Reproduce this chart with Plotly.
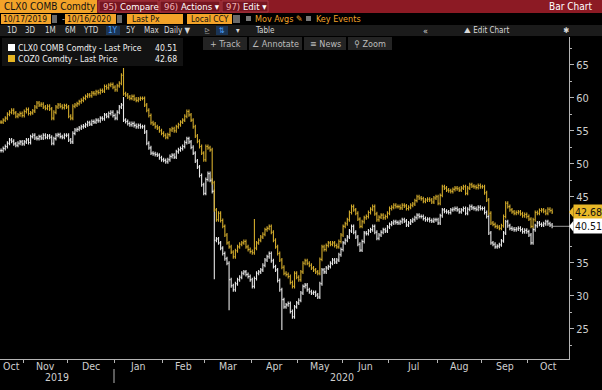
import pandas as pd
import plotly.graph_objects as go

# ---------------- data (daily closes) ----------------
clx0_close = [
    52.0, 52.3, 52.6, 53.1, 53.6, 53.4, 53.0, 52.8, 53.1, 53.3, 53.0,                                   # Oct 19
    53.3, 53.6, 53.2, 54.1, 54.3, 53.9, 53.8, 54.1, 53.9, 54.3, 54.0, 54.2, 54.0, 53.1, 53.8, 54.3, 54.4,
    54.1, 54.0, 54.3, 54.3,                                                                             # Nov
    53.6, 53.3, 54.6, 55.1, 55.2, 55.4, 55.6, 55.7, 55.9, 56.2, 56.0, 56.4, 56.3, 56.6, 56.5, 56.9, 56.8,
    57.4, 57.2, 57.6, 57.8, 57.3,                                                                       # Dec
    56.9, 57.8, 58.6, 58.9, 56.6, 56.4, 56.1, 55.9, 56.1, 55.8, 55.6, 55.8, 55.6, 55.6, 54.8, 53.1, 52.4,
    51.6, 51.5, 51.4, 51.3, 50.9, 50.6,                                                                 # Jan 20
    50.5, 50.3, 50.6, 51.1, 51.3, 51.0, 51.8, 52.1, 52.3, 52.6, 53.2, 53.8, 53.3, 52.5, 51.6, 50.4, 49.5,
    48.2, 46.8, 45.5,                                                                                   # Feb
    47.6, 48.5, 47.5, 45.8, 38.4, 38.6, 38.0, 37.2, 36.4, 35.6, 34.9, 32.4, 31.5, 30.9, 31.8, 32.4, 32.8,
    33.4, 33.6, 33.2, 32.9, 32.4,                                                                       # Mar
    31.4, 32.6, 33.4, 33.6, 33.9, 34.6, 35.4, 35.9, 36.4, 35.3, 34.4, 33.9, 32.3, 30.9, 29.4, 28.3, 28.6,
    28.8, 27.6, 26.8, 28.3, 28.9,                                                                       # Apr
    29.3, 30.4, 31.4, 31.6, 30.9, 30.6, 30.4, 30.5, 30.1, 29.8, 31.8, 33.9, 33.6, 34.2, 34.4, 34.9, 35.4,
    35.1, 35.4, 36.2, 37.0,                                                                             # May
    38.0, 38.4, 38.9, 39.8, 40.5, 39.6, 38.9, 37.8, 36.9, 38.2, 39.5, 39.4, 39.8, 40.0, 40.5, 39.6, 38.7,
    39.2, 39.6, 40.0, 39.8, 40.4,                                                                       # Jun
    40.8, 41.0, 41.2, 41.1, 41.0, 41.2, 41.5, 41.3, 40.7, 41.0, 41.3, 41.5, 41.8, 42.2, 42.0, 42.0, 41.7,
    41.5, 41.6, 41.4, 41.3, 41.5, 41.5,                                                                 # Jul
    41.0, 42.1, 43.0, 42.8, 42.7, 42.6, 43.0, 43.1, 43.2, 43.0, 42.7, 43.0, 43.2, 42.5, 43.1, 43.5, 43.3,
    43.2, 43.1, 43.4, 43.2,                                                                             # Aug
    43.2, 42.6, 42.0, 39.5, 38.0, 37.8, 37.4, 37.5, 37.7, 38.3, 39.5, 41.2, 40.6, 40.2, 40.1, 40.0, 40.1,
    40.2, 40.0, 39.7, 39.9, 39.7,                                                                       # Sep
    39.2, 38.0, 40.0, 40.6, 41.0, 40.8, 40.7, 40.9, 41.2, 40.9, 40.7, 40.51,                            # Oct
]
coz0_close = [
    56.3, 56.6, 56.9, 57.5, 57.8, 58.1, 57.7, 57.2, 57.4, 57.6, 57.3,                                   # Oct 19
    57.9, 58.2, 57.6, 57.7, 58.0, 58.6, 59.2, 58.9, 59.0, 58.6, 58.4, 58.7, 58.3, 56.9, 57.8, 58.6, 58.9,
    58.7, 58.5, 58.8, 58.6,                                                                             # Nov
    57.2, 56.9, 58.7, 58.9, 59.1, 59.4, 59.6, 59.9, 60.2, 60.4, 60.3, 60.7, 60.6, 60.9, 60.8, 61.1, 61.0,
    61.7, 61.5, 61.9, 62.0, 61.6,                                                                       # Dec
    61.2, 61.8, 62.2, 63.4, 60.6, 60.4, 60.1, 59.9, 60.2, 59.8, 59.6, 59.8, 59.9, 59.9, 58.9, 58.1, 57.3,
    56.2, 56.0, 55.6, 55.4, 55.0, 54.6,                                                                 # Jan 20
    54.3, 54.0, 54.4, 55.1, 55.3, 55.0, 55.6, 55.9, 56.3, 56.6, 57.2, 57.9, 57.4, 56.6, 55.6, 54.2, 53.4,
    52.6, 51.6, 50.6,                                                                                   # Feb
    52.6, 52.4, 52.1, 47.1, 43.0, 41.5, 42.5, 41.4, 40.5, 39.2, 38.0, 37.4, 36.6, 35.9, 36.8, 37.4, 37.8,
    38.0, 38.2, 37.4, 37.0, 36.7,                                                                       # Mar
    36.5, 37.2, 38.0, 38.4, 38.9, 39.3, 40.0, 40.2, 40.5, 39.6, 38.4, 37.4, 36.4, 35.4, 34.3, 33.4, 33.2,
    32.9, 32.0, 31.4, 33.4, 32.8,                                                                       # Apr
    32.4, 33.6, 34.9, 35.3, 34.9, 34.6, 34.2, 33.9, 33.6, 33.4, 35.5, 37.4, 37.0, 37.6, 38.0, 37.8, 38.0,
    37.6, 37.4, 38.2, 39.2,                                                                             # May
    40.5, 40.9, 41.5, 42.6, 43.5, 43.0, 42.5, 41.6, 40.5, 41.2, 41.8, 42.0, 42.6, 43.1, 43.5, 42.4, 41.5,
    41.9, 42.2, 41.8, 42.0, 42.5,                                                                       # Jun
    43.2, 43.4, 43.7, 43.5, 43.5, 43.3, 43.7, 43.6, 43.2, 43.4, 43.7, 43.9, 44.4, 45.0, 44.8, 44.7, 44.3,
    44.5, 44.6, 44.5, 44.2, 44.8, 45.0,                                                                 # Jul
    44.0, 45.2, 46.5, 46.3, 46.0, 45.9, 45.8, 46.1, 46.3, 46.2, 46.0, 46.3, 46.5, 45.5, 46.3, 46.8, 46.6,
    46.5, 46.4, 46.7, 46.5,                                                                             # Aug
    46.5, 45.6, 44.5, 42.5, 41.0, 40.8, 40.5, 40.4, 40.2, 40.6, 42.0, 44.0, 43.5, 43.0, 42.7, 42.5, 42.6,
    42.7, 42.4, 42.1, 42.3, 42.0,                                                                       # Sep
    41.6, 40.5, 41.5, 42.6, 42.5, 42.9, 43.0, 42.8, 42.5, 43.1, 42.9, 42.68,                            # Oct
]
# intraday extremes visible as long bars (index -> price)
clx0_high_spikes = {58: 60.1}
clx0_low_spikes = {101: 32.5, 108: 27.8, 133: 24.8}
coz0_high_spikes = {58: 64.5, 120: 41.6}
coz0_low_spikes = {}
bar_range_pad = 0.3

legend_names = ["CLX0 COMB Comdty - Last Price", "COZ0 Comdty - Last Price"]
last_prices = [40.51, 42.68]
y_tick_vals = [25, 30, 35, 45, 50, 55, 60, 65]
y_minor_vals = [22.5, 27.5, 32.5, 37.5, 42.5, 47.5, 52.5, 57.5, 62.5, 67.5]
start_date = "2019-10-17"

# ---------------- styling ----------------
W, H = 602, 390
PL, PR, PT, PB = 0, 569, 37, 359
XR = [-0.5, 269.0]
YR = [20.4, 69.2]
FONT = "Liberation Sans Narrow, Arial Narrow, DejaVu Sans Condensed, sans-serif"
WHITE = "#e8e8e8"
GOLD = "#d2ab2c"
ORANGE = "#f3a329"
AXIS = "#b4b4b4"
LBL = "#cfcfcf"


def fx(p):
    return (p - PL) / (PR - PL)


def fy(p):
    return (PB - p) / (PB - PT)


def rect(x0, y0, x1, y1, color, line=None):
    return dict(type="rect", xref="paper", yref="paper", x0=fx(x0), x1=fx(x1),
                y0=fy(y1), y1=fy(y0), fillcolor=color,
                line=dict(width=1 if line else 0, color=line or color), layer="above")


def txt(x, y, s, size=10, color=LBL, anchor="left"):
    return dict(x=fx(x), y=fy(y), xref="paper", yref="paper", text=s, showarrow=False,
                xanchor=anchor, yanchor="middle", borderpad=0,
                font=dict(family=FONT, size=size, color=color))


def build_ohlc(close, hi_sp, lo_sp):
    o = [close[0]] + close[:-1]
    h = [max(a, b) + bar_range_pad for a, b in zip(o, close)]
    l = [min(a, b) - bar_range_pad for a, b in zip(o, close)]
    for k, v in hi_sp.items():
        h[k] = max(h[k], v)
    for k, v in lo_sp.items():
        l[k] = min(l[k], v)
    return o, h, l


n = len(clx0_close)
dates = pd.bdate_range(start_date, periods=n)
idx = list(range(n))

fig = go.Figure()
for close, his, los, col in [(clx0_close, clx0_high_spikes, clx0_low_spikes, WHITE),
                             (coz0_close, coz0_high_spikes, coz0_low_spikes, GOLD)]:
    o, h, l = build_ohlc(close, his, los)
    fig.add_trace(go.Ohlc(x=idx[:len(close)], open=o, high=h, low=l, close=close,
                          increasing=dict(line=dict(color=col, width=1.1)),
                          decreasing=dict(line=dict(color=col, width=1.1)),
                          tickwidth=0.45, showlegend=False, hoverinfo="skip"))

# month / year structure of the x axis
ym = [(d.year, d.month) for d in dates]
starts = [i for i in range(n) if i == 0 or ym[i] != ym[i - 1]]
bounds = [s - 0.5 for s in starts[1:]]
edges = [XR[0]] + bounds + [XR[1]]
annotations = []
for k, s in enumerate(starts):
    c = (edges[k] + edges[k + 1]) / 2
    annotations.append(dict(x=c, y=fy(366), xref="x", yref="paper", text=dates[s].strftime("%b"),
                            showarrow=False, xanchor="center", yanchor="middle",
                            font=dict(family=FONT, size=10.5, color=LBL)))
year_starts = [i for i in range(1, n) if dates[i].year != dates[i - 1].year]
ybounds = [XR[0]] + [s - 0.5 for s in year_starts] + [XR[1]]
years = [dates[0].year] + [dates[s].year for s in year_starts]
for k, yv in enumerate(years):
    c = (ybounds[k] + ybounds[k + 1]) / 2
    annotations.append(dict(x=c, y=fy(376.5), xref="x", yref="paper", text=str(yv),
                            showarrow=False, xanchor="center", yanchor="middle",
                            font=dict(family=FONT, size=10.5, color=LBL)))

shapes = []
for s in year_starts:
    shapes.append(dict(type="line", xref="x", yref="paper", x0=s - 0.5, x1=s - 0.5,
                       y0=fy(383), y1=fy(369), line=dict(color=AXIS, width=1)))

# ---------------- Bloomberg toolbar ----------------
shapes += [
    rect(0, 0, 602, 13, "#8c1a24"),
    rect(0, 0, 97, 13, ORANGE),
    rect(99, 1, 158, 12, "#761520", "#a83a44"),
    rect(160, 1, 220, 12, "#761520", "#a83a44"),
    rect(222, 1, 268, 12, "#761520", "#a83a44"),
    rect(1, 14, 51, 24, ORANGE), rect(52, 15, 57, 23, "#6a6a6a"),
    rect(65, 14, 116, 24, ORANGE), rect(117, 15, 122, 23, "#6a6a6a"),
    rect(127, 14, 183, 24, ORANGE),
    rect(187, 14, 232, 24, ORANGE), rect(233, 15, 240, 23, "#6a6a6a"),
    rect(246, 16, 251, 21, "#777777"), rect(306, 16, 311, 21, "#777777"),
    rect(0, 25, 602, 36, "#1b1b1b"),
    rect(106, 26, 120, 35, "#1a3556"), rect(216, 26, 228, 35, "#1a3556"),
    rect(203, 37, 247, 50, "#242424"), rect(249, 37, 302, 50, "#242424"),
    rect(304, 37, 346, 50, "#242424"), rect(348, 37, 392, 50, "#242424"),
    # legend box
    rect(2, 38, 183, 66, "#121212"),
    rect(8, 44, 15, 51, "#ffffff"), rect(8, 55, 15, 62, "#e6b422"),
]
annotations += [
    txt(3, 7, "CLX0 COMB Comdty", 10, "#111111"),
    txt(102, 7, "<span style='color:#f0b0b4'>95)</span> Compare", 9.5, "#ffffff"),
    txt(163, 7, "<span style='color:#f0b0b4'>96)</span> Actions ▾", 9.5, "#ffffff"),
    txt(225, 7, "<span style='color:#f0b0b4'>97)</span> Edit ▾", 9.5, "#ffffff"),
    txt(593, 7, "Bar Chart", 10, "#ffffff", "right"),
    txt(2, 19, "10/17/2019", 8.5, "#111111"),
    txt(61, 19, "-", 9, LBL),
    txt(66, 19, "10/16/2020", 8.5, "#111111"),
    txt(131, 19, "Last Px", 8.5, "#111111"),
    txt(190, 19, "Local CCY", 8.5, "#111111"),
    txt(254, 19, "Mov Avgs ✎", 9, ORANGE),
    txt(315, 19, "Key Events", 9, ORANGE),
    txt(12, 30.5, "1D", 8, "#d8d8d8", "center"),
    txt(30.5, 30.5, "3D", 8, "#d8d8d8", "center"),
    txt(50, 30.5, "1M", 8, "#d8d8d8", "center"),
    txt(70, 30.5, "6M", 8, "#d8d8d8", "center"),
    txt(91, 30.5, "YTD", 8, "#d8d8d8", "center"),
    txt(113, 30.5, "1Y", 8, "#4fa3ff", "center"),
    txt(130.5, 30.5, "5Y", 8, "#d8d8d8", "center"),
    txt(152, 30.5, "Max", 8, "#d8d8d8", "center"),
    txt(177, 30.5, "Daily ▼", 8, "#d8d8d8", "center"),
    txt(207, 30.5, "⊵", 8, "#9a9a9a", "center"),
    txt(222, 30.5, "⇅", 8, "#4fa3ff", "center"),
    txt(238, 30.5, "▾", 8, "#d8d8d8", "center"),
    txt(265, 30.5, "Table", 8, "#d8d8d8", "center"),
    txt(425, 30.5, "«", 9, "#d8d8d8", "center"),
    txt(486, 30.5, "⛰ Edit Chart", 8, "#d8d8d8", "center"),
    txt(566, 30.5, "✱", 8, "#d8d8d8", "center"),
    txt(225, 43.5, "+ Track", 9, "#bdbdbd", "center"),
    txt(275.5, 43.5, "∠ Annotate", 9, "#bdbdbd", "center"),
    txt(325, 43.5, "≡ News", 9, "#bdbdbd", "center"),
    txt(370, 43.5, "⚲ Zoom", 9, "#bdbdbd", "center"),
    txt(17, 47.5, legend_names[0], 8.6, "#f0f0f0"),
    txt(17, 58.5, legend_names[1], 8.6, "#f0f0f0"),
    txt(178, 47.5, f"{last_prices[0]:.2f}", 8.6, "#f0f0f0", "right"),
    txt(178, 58.5, f"{last_prices[1]:.2f}", 8.6, "#f0f0f0", "right"),
]

# last-price tags on the right axis
dy = 5.5 / ((PB - PT) / (YR[1] - YR[0]))
shapes.append(dict(type="line", xref="x", yref="y", x0=n - 1, x1=XR[1], y0=last_prices[0],
                   y1=last_prices[0], line=dict(color="#9a9a9a", width=1)))
for val, bg in [(last_prices[1], "#e8b828"), (last_prices[0], "#ffffff")]:
    shapes.append(dict(type="path", xref="paper", yref="y",
                       path=f"M {fx(569)},{val} L {fx(573.5)},{val + dy} L {fx(573.5)},{val - dy} Z",
                       fillcolor=bg, line=dict(width=0), layer="above"))
    annotations.append(dict(x=fx(573), y=val, xref="paper", yref="y", text=f"{val:.2f}",
                            showarrow=False, xanchor="left", yanchor="middle", bgcolor=bg,
                            borderpad=1, font=dict(family=FONT, size=10.5, color="#111111")))

fig.update_layout(
    width=W, height=H,
    margin=dict(l=PL, r=W - PR, t=PT, b=H - PB, pad=0),
    paper_bgcolor="#000000", plot_bgcolor="#000000",
    font=dict(family=FONT, color=LBL),
    showlegend=False,
    shapes=shapes, annotations=annotations,
    xaxis=dict(range=XR, showgrid=False, zeroline=False, showline=True, linecolor=AXIS,
               linewidth=1, tickmode="array", tickvals=bounds, ticktext=[""] * len(bounds),
               ticks="outside", ticklen=3, tickcolor=AXIS, rangeslider=dict(visible=False),
               fixedrange=True),
    yaxis=dict(range=YR, side="right", showgrid=False, zeroline=False, showline=True,
               linecolor=AXIS, linewidth=1, tickmode="array", tickvals=y_tick_vals,
               ticks="outside", ticklen=4, tickcolor=AXIS,
               tickfont=dict(family=FONT, size=11, color=LBL),
               minor=dict(tickmode="array", tickvals=y_minor_vals, ticks="outside",
                          ticklen=2, tickcolor=AXIS),
               fixedrange=True),
)

fig.write_html("out.html", config={"displayModeBar": False})
